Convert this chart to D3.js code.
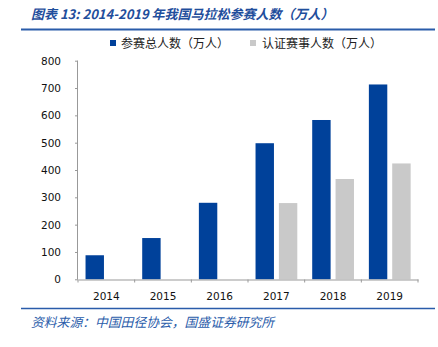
<!DOCTYPE html>
<html><head><meta charset="utf-8">
<script src="https://cdn.jsdelivr.net/npm/d3@7"></script>
<style>body{margin:0;background:#fff;}</style>
</head><body>
<svg id="c" width="438" height="347"></svg>
<script>
const years = ["2014","2015","2016","2017","2018","2019"];
const totalParticipants = [88, 151, 280, 498, 583, 713];
const certifiedParticipants = [null, null, null, 279, 367, 424];
const yTicks = [0,100,200,300,400,500,600,700,800];
const seriesNames = ["参赛总人数（万人）","认证赛事人数（万人）"];
const colors = ["#00419a","#c9c9c9"];

const svg = d3.select("#c");
const x = d3.scaleBand().domain(years).range([78,418]);
const y = d3.scaleLinear().domain([0,800]).range([279.3,60.7]);
const bw = x.bandwidth();
const barW = bw*0.325;

// title
svg.append("text").attr("x",31).attr("y",19)
  .attr("font-family","'Noto Sans CJK SC', 'DejaVu Sans', sans-serif")
  .attr("font-size",13).attr("font-style","italic").attr("font-weight","bold")
  .attr("fill","#1f4e9c").text("图表 13:  2014-2019 年我国马拉松参赛人数（万人）");
svg.append("line").attr("x1",21).attr("x2",435).attr("y1",29.5).attr("y2",29.5)
  .attr("stroke","#2a5caa").attr("stroke-width",2);

// legend
const lg = svg.append("g");
[[110,121],[250,262]].forEach((p,i)=>{
  lg.append("rect").attr("x",p[0]).attr("y",40).attr("width",6).attr("height",6).attr("fill",colors[i]);
  lg.append("text").attr("x",p[1]).attr("y",47.5)
    .attr("font-family","'Noto Sans CJK SC', sans-serif").attr("font-size",12)
    .attr("fill","#222").text(seriesNames[i]);
});

// bars
const g = svg.append("g");
g.selectAll(".b1").data(years).enter().append("rect")
  .attr("x",d=>x(d)+bw*0.133).attr("width",barW)
  .attr("y",(d,i)=>y(totalParticipants[i])).attr("height",(d,i)=>y(0)-y(totalParticipants[i]))
  .attr("fill",colors[0]);
g.selectAll(".b2").data(years.filter((d,i)=>certifiedParticipants[i]!=null)).enter().append("rect")
  .attr("x",d=>x(d)+bw*0.545).attr("width",barW)
  .attr("y",d=>y(certifiedParticipants[years.indexOf(d)]))
  .attr("height",d=>y(0)-y(certifiedParticipants[years.indexOf(d)]))
  .attr("fill",colors[1]);

// y axis
const ya = svg.append("g").attr("transform","translate(78,0)")
  .call(d3.axisLeft(y).tickValues(yTicks).tickSize(3).tickPadding(14));
ya.select(".domain").attr("stroke","#999").attr("d","M-0.5,60.7V279.3");
ya.selectAll(".tick line").attr("stroke","#999");
ya.selectAll("text").attr("font-family","'DejaVu Sans', Verdana, sans-serif").attr("font-size",10.5).attr("fill","#111");

// x axis
const xa = svg.append("g").attr("transform","translate(0,279.5)")
  .call(d3.axisBottom(x).tickSize(0).tickPadding(13));
xa.select(".domain").attr("stroke","#999");
xa.selectAll("text").attr("font-family","'DejaVu Sans', Verdana, sans-serif").attr("font-size",10.5).attr("fill","#111");
const bounds = years.map(d=>x(d)).concat([x(years[years.length-1])+bw]);
xa.selectAll(".sep").data(bounds).enter().append("line")
  .attr("x1",d=>d).attr("x2",d=>d).attr("y1",0).attr("y2",3).attr("stroke","#999");

// bottom line & source
svg.append("line").attr("x1",21).attr("x2",435).attr("y1",308.5).attr("y2",308.5)
  .attr("stroke","#2a5caa").attr("stroke-width",1.5);
svg.append("text").attr("x",31).attr("y",327)
  .attr("font-family","'Noto Sans CJK SC', sans-serif")
  .attr("font-size",12.8).attr("font-style","italic")
  .attr("fill","#2a5caa").text("资料来源：中国田径协会，国盛证券研究所");
</script>
</body></html>
